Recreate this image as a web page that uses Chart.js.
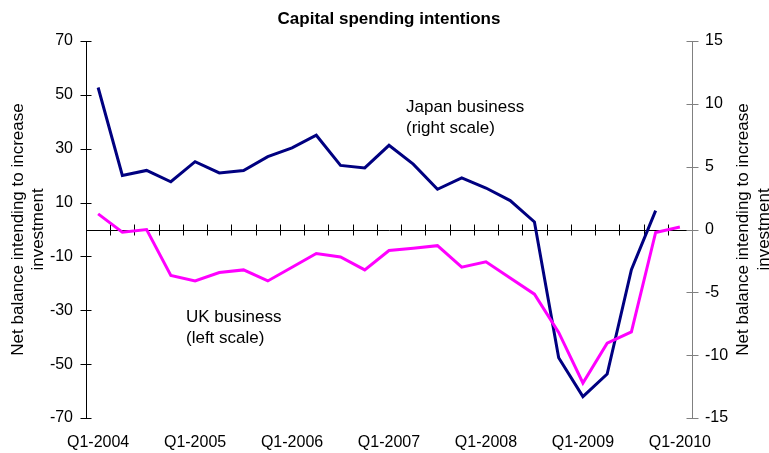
<!DOCTYPE html>
<html>
<head>
<meta charset="utf-8">
<script src="https://cdn.jsdelivr.net/npm/chart.js@4"></script>
<style>
    html, body { margin: 0; padding: 0; background: #fff; }
</style>
</head>
<body>
<canvas id="grafico" width="769" height="453"></canvas>
<script>
const trimestres = [
    "Q1-2004", "Q2-2004", "Q3-2004", "Q4-2004",
    "Q1-2005", "Q2-2005", "Q3-2005", "Q4-2005",
    "Q1-2006", "Q2-2006", "Q3-2006", "Q4-2006",
    "Q1-2007", "Q2-2007", "Q3-2007", "Q4-2007",
    "Q1-2008", "Q2-2008", "Q3-2008", "Q4-2008",
    "Q1-2009", "Q2-2009", "Q3-2009", "Q4-2009",
    "Q1-2010"
];

// UK business, left scale
const reinoUnido = [5.8, -1.0, 0, -17.1, -19.1, -16.0, -15.0, -19.1, -14.0, -8.9, -10.2, -15.0,
    -7.8, -7.0, -6.0, -14.0, -12.0, -18.0, -24.0, -38.2, -57.0, -42.2, -38.0, -1.1, 0.9];

// Japan business, right scale
const japon = [11.3, 4.3, 4.7, 3.8, 5.4, 4.5, 4.7, 5.8, 6.5, 7.5, 5.1, 4.9,
    6.7, 5.2, 3.2, 4.1, 3.3, 2.3, 0.6, -10.2, -13.3, -11.5, -3.2, 1.5, null];

const ticksIzq = [-70, -50, -30, -10, 10, 30, 50, 70];
const ticksDer = [-15, -10, -5, 0, 5, 10, 15];

const fuente = "'Liberation Sans', Arial, sans-serif";
const tituloEje = ["Net balance intending to increase", "investment"];

// ejes dibujados a mano: el eje x cruza en cero y las marcas atraviesan la línea
const ejes = {
    id: "ejes",
    beforeDatasetsDraw(chart) {
        const ctx = chart.ctx;
        const area = chart.chartArea;
        const x = chart.scales.x, yi = chart.scales.y, yd = chart.scales.y2;
        const izq = Math.round(area.left) + 0.5;
        const der = Math.round(area.right) + 0.5;
        const cero = Math.round(yi.getPixelForValue(0)) + 0.5;
        ctx.save();
        ctx.lineWidth = 1;

        ctx.strokeStyle = "#000";
        ctx.beginPath();
        ctx.moveTo(izq, area.top);
        ctx.lineTo(izq, area.bottom);
        ticksIzq.forEach(v => {
            let py = Math.round(yi.getPixelForValue(v)) + 0.5;
            ctx.moveTo(izq - 6, py);
            ctx.lineTo(izq + 5, py);
        });
        ctx.moveTo(izq, cero);
        ctx.lineTo(der, cero);
        for (let k = 1; k < trimestres.length; k++) {
            let px = Math.round((x.getPixelForValue(k - 1) + x.getPixelForValue(k)) / 2) + 0.5;
            ctx.moveTo(px, cero - 6);
            ctx.lineTo(px, cero + 5);
        }
        ctx.stroke();

        ctx.strokeStyle = "#808080";
        ctx.beginPath();
        ctx.moveTo(der, area.top);
        ctx.lineTo(der, area.bottom);
        ticksDer.forEach(v => {
            let py = Math.round(yd.getPixelForValue(v)) + 0.5;
            ctx.moveTo(der - 6, py);
            ctx.lineTo(der + 6, py);
        });
        ctx.stroke();
        ctx.restore();
    },
    afterDraw(chart) {
        const ctx = chart.ctx;
        const area = chart.chartArea;
        const medio = (area.top + area.bottom) / 2;
        ctx.save();
        ctx.fillStyle = "#000";

        ctx.font = "bold 17px " + fuente;
        ctx.textAlign = "center";
        ctx.textBaseline = "alphabetic";
        ctx.fillText("Capital spending intentions", 389, 24);

        ctx.font = "17px " + fuente;
        [[23, 43], [748, 769]].forEach(bases => {
            bases.forEach((bx, i) => {
                ctx.save();
                ctx.translate(bx, medio);
                ctx.rotate(-Math.PI / 2);
                ctx.fillText(tituloEje[i], 0, 0);
                ctx.restore();
            });
        });

        ctx.textAlign = "left";
        ctx.fillText("Japan business", 406, 112);
        ctx.fillText("(right scale)", 406, 132.5);
        ctx.fillText("UK business", 186, 322);
        ctx.fillText("(left scale)", 186, 343);
        ctx.restore();
    }
};

new Chart(document.getElementById("grafico"), {
    type: "line",
    data: {
        labels: trimestres,
        datasets: [
            {
                label: "UK business (left scale)",
                data: reinoUnido,
                yAxisID: "y",
                borderColor: "#ff00ff",
                borderWidth: 3,
                pointRadius: 0,
                tension: 0,
                fill: false
            },
            {
                label: "Japan business (right scale)",
                data: japon,
                yAxisID: "y2",
                borderColor: "#000080",
                borderWidth: 3,
                pointRadius: 0,
                tension: 0,
                fill: false
            }
        ]
    },
    options: {
        responsive: false,
        animation: false,
        layout: { padding: { top: 41, left: 0, right: 0, bottom: 0 } },
        plugins: {
            legend: { display: false },
            title: { display: false },
            tooltip: { enabled: false }
        },
        scales: {
            x: {
                type: "category",
                offset: true,
                grid: { display: false, drawTicks: false },
                border: { display: false },
                ticks: {
                    autoSkip: false,
                    maxRotation: 0,
                    padding: 15,
                    color: "#000",
                    font: { family: fuente, size: 16 },
                    callback: (v, i) => i % 4 === 0 ? trimestres[i] : ""
                },
                afterFit: s => { s.height = 35; }
            },
            y: {
                position: "left",
                min: -70,
                max: 70,
                grid: { display: false, drawTicks: false },
                border: { display: false },
                ticks: { padding: 13, color: "#000", font: { family: fuente, size: 16 } },
                afterBuildTicks: s => { s.ticks = ticksIzq.map(v => ({ value: v })); },
                afterFit: s => { s.width = 86; }
            },
            y2: {
                position: "right",
                min: -15,
                max: 15,
                grid: { display: false, drawTicks: false },
                border: { display: false },
                ticks: { padding: 13, color: "#000", font: { family: fuente, size: 16 } },
                afterBuildTicks: s => { s.ticks = ticksDer.map(v => ({ value: v })); },
                afterFit: s => { s.width = 77; }
            }
        }
    },
    plugins: [ejes]
});
</script>
</body>
</html>
